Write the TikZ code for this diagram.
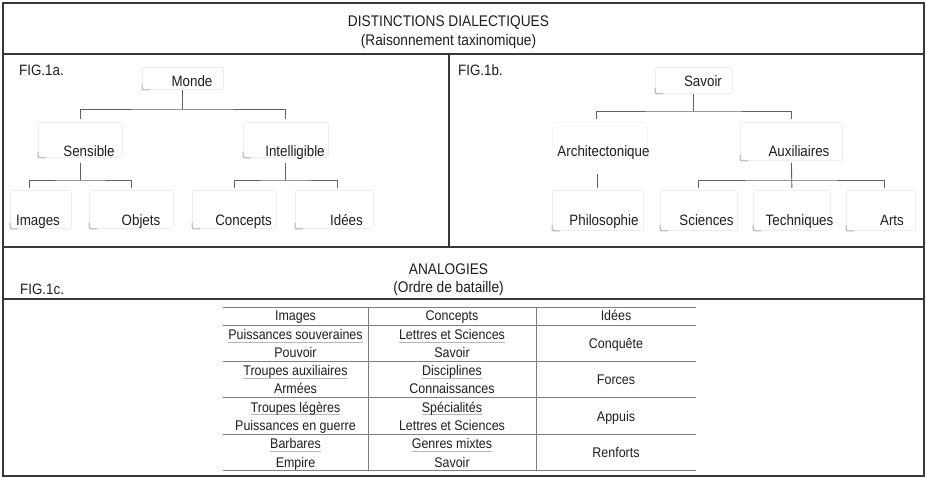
\documentclass[tikz,border=0pt]{standalone}
\usepackage{fontspec}
\setmainfont[FakeStretch=0.89]{Liberation Sans}
\definecolor{txt}{HTML}{1E1E1E}
\newcommand\grul[1]{\setbox0\hbox{#1}\rlap{\textcolor{black!28}{\rule[-2.6pt]{\wd0}{0.8pt}}}\box0}
\newcommand\tbx[5]{\node[tbox, minimum width={#4-#2}, minimum height={#5-#3}] (#1) at (#2,#3) {};
  \draw[corner] ([yshift=6pt]#1.south west) |- ([xshift=8pt]#1.south west);}
\tikzset{
  every node/.style={text=txt, inner sep=0pt},
  tt/.style={anchor=base, font=\fontsize{15}{18}\selectfont},
  fig/.style={anchor=base west, font=\fontsize{15}{18}\selectfont},
  ttl/.style={anchor=base, font=\fontsize{15.4}{18}\selectfont},
  tab/.style={anchor=base, font=\fontsize{14}{17}\selectfont},
  tbox/.style={draw=black!7, rounded corners=2pt, anchor=north west, line width=0.8pt},
  corner/.style={draw=black!30, line width=1pt, rounded corners=2pt},
  conn/.style={draw=black!62, line width=0.9pt},
  frame/.style={draw=black!78, line width=1.3pt},
  tline/.style={draw=black!50, line width=0.8pt},
}
\begin{document}
\begin{tikzpicture}[x=1pt, y=-1pt]
\useasboundingbox (0,0) rectangle (927,478);
% frame
\draw[frame] (3,3) rectangle (924,476);
\draw[frame] (3,54) -- (924,54);
\draw[frame] (3,247) -- (924,247);
\draw[frame] (3,299) -- (924,299);
\draw[frame] (449,54) -- (449,247);
% titles
\node[ttl] (t1) at (448.5,27) {DISTINCTIONS DIALECTIQUES};
\node[ttl] (t2) at (448.5,46) {(Raisonnement taxinomique)};
\node[ttl] (t3) at (448.5,275) {ANALOGIES};
\node[ttl] (t4) at (448.5,293) {(Ordre de bataille)};
\node[fig] (f1) at (19,76) {FIG.1a.};
\node[fig] (f2) at (458,76) {FIG.1b.};
\node[fig] (f3) at (20,295) {FIG.1c.};
% level coordinates
\coordinate (yA1) at (0,109);
\coordinate (yA2) at (0,180);
\coordinate (yB1) at (0,111);
\coordinate (yB2) at (0,180);
% boxes FIG 1a
\tbx{bMonde}{142}{67}{223}{89}
\tbx{bSens}{38}{122}{122}{157}
\tbx{bIntel}{243}{122}{328}{157}
\tbx{bImg}{10}{190}{71}{228}
\tbx{bObj}{89}{190}{173}{228}
\tbx{bConc}{192}{190}{276}{228}
\tbx{bIdees}{295}{190}{373}{228}
% boxes FIG 1b
\tbx{bSav}{655}{67}{732}{93}
\node[tbox, draw=black!4, minimum width=95, minimum height=36] (bArch) at (552,122) {};
\tbx{bAux}{740}{122}{842}{160}
\tbx{bPhil}{552}{190}{643}{230}
\tbx{bSci}{660}{190}{737}{230}
\tbx{bTech}{753}{190}{830}{230}
\tbx{bArts}{846}{190}{915}{230}
% texts FIG 1a
\node[tt] (tMonde) at (192,87) {Monde};
\node[tt] (tSens) at (89,157) {Sensible};
\node[tt] (tIntel) at (295,157) {Intelligible};
\node[tt] (tImg) at (38,225.5) {Images};
\node[tt] (tObj) at (141,225.5) {Objets};
\node[tt] (tConc) at (243.5,225.5) {Concepts};
\node[tt] (tIdees) at (346.5,225.5) {Idées};
% texts FIG 1b
\node[tt] (tSav) at (703,87) {Savoir};
\node[tt] (tArch) at (603.5,157) {Architectonique};
\node[tt] (tAux) at (799,157) {Auxiliaires};
\node[tt] (tPhil) at (604,225.5) {Philosophie};
\node[tt] (tSci) at (706.5,225.5) {Sciences};
\node[tt] (tTech) at (799.5,225.5) {Techniques};
\node[tt] (tArts) at (892,225.5) {Arts};
% connectors FIG 1a
\draw[conn] (bMonde.south) -- (bMonde.south |- yA1);
\draw[conn, shorten <=3pt, shorten >=3pt] (bSens.north) |- (bMonde.south |- yA1) -| (bIntel.north);
\draw[conn, shorten <=5pt] (bSens.south) -- (bSens.south |- yA2);
\draw[conn, shorten <=2pt, shorten >=2pt] ([xshift=-11pt]bImg.north) |- (bSens.south |- yA2) -| (bObj.north);
\draw[conn, shorten <=5pt] (bIntel.south) -- (bIntel.south |- yA2);
\draw[conn, shorten <=2pt, shorten >=2pt] (bConc.north) |- (bIntel.south |- yA2) -| ([xshift=3pt]bIdees.north);
% connectors FIG 1b
\draw[conn] (bSav.south) -- (bSav.south |- yB1);
\draw[conn, shorten <=3pt, shorten >=3pt] ([xshift=-3.5pt]bArch.north) |- (bSav.south |- yB1) -| (bAux.north);
\draw[conn, shorten <=15pt, shorten >=2pt] (bArch.south -| bPhil.north) -- (bPhil.north);
\draw[conn, shorten <=2pt, shorten >=2pt] (bAux.south) -- (bTech.north);
\draw[conn, shorten <=2pt, shorten >=2pt] (bSci.north) |- (bAux.south |- yB2) -| ([xshift=3.5pt]bArts.north);
% table lines
\foreach \yy in {307,325,361,397,434,470} \draw[tline] (223,\yy) -- (696,\yy);
\draw[tline] (368,307) -- (368,470);
\draw[tline] (536,307) -- (536,470);
% table header
\node[tab] (h1) at (295.5,321) {Images};
\node[tab] (h2) at (452,321) {Concepts};
\node[tab] (h3) at (616,321) {Idées};
% row 1
\node[tab] (r1a) at (295.5,340) {\grul{Puissances souveraines}};
\node[tab] (r1b) at (295.5,358) {Pouvoir};
\node[tab] (r1c) at (452,340) {\grul{Lettres et Sciences}};
\node[tab] (r1d) at (452,358) {Savoir};
\node[tab] (r1e) at (616,348.5) {Conquête};
% row 2
\node[tab] (r2a) at (295.5,376) {\grul{Troupes auxiliaires}};
\node[tab] (r2b) at (295.5,394) {Armées};
\node[tab] (r2c) at (452,376) {\grul{Disciplines}};
\node[tab] (r2d) at (452,394) {Connaissances};
\node[tab] (r2e) at (616,384.5) {Forces};
% row 3
\node[tab] (r3a) at (295.5,412.5) {\grul{Troupes légères}};
\node[tab] (r3b) at (295.5,430.5) {Puissances en guerre};
\node[tab] (r3c) at (452,412.5) {\grul{Spécialités}};
\node[tab] (r3d) at (452,430.5) {Lettres et Sciences};
\node[tab] (r3e) at (616,421) {Appuis};
% row 4
\node[tab] (r4a) at (295.5,449) {\grul{Barbares}};
\node[tab] (r4b) at (295.5,467) {Empire};
\node[tab] (r4c) at (452,449) {\grul{Genres mixtes}};
\node[tab] (r4d) at (452,467) {Savoir};
\node[tab] (r4e) at (616,457.5) {Renforts};
\end{tikzpicture}
\end{document}
